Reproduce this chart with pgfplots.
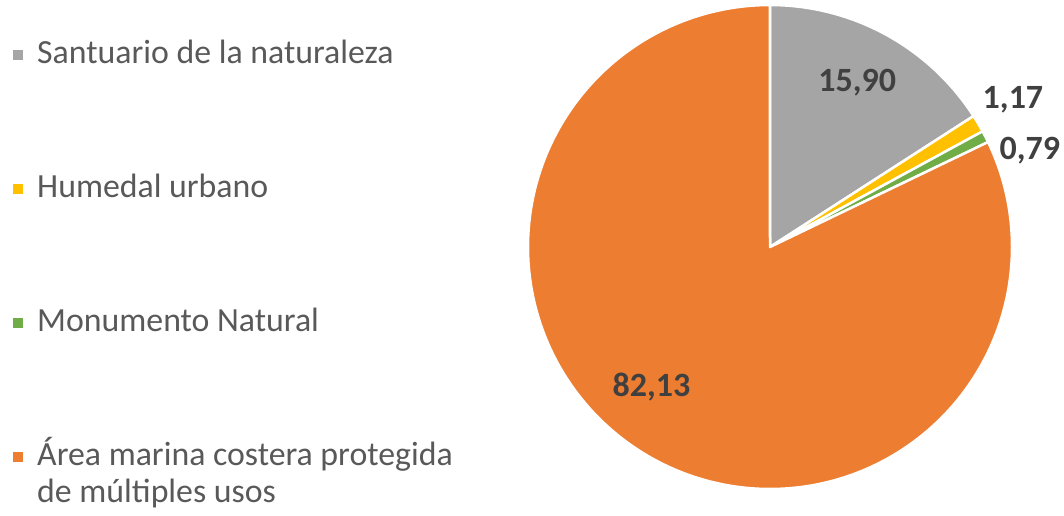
\documentclass[border=0pt]{standalone}
\usepackage{fontspec}
\setmainfont{Carlito}
\usepackage{pgfplots}
\pgfplotsset{compat=1.18}
\definecolor{cgray}{HTML}{A5A5A5}
\definecolor{cyellow}{HTML}{FFC000}
\definecolor{cgreen}{HTML}{70AD47}
\definecolor{corange}{HTML}{ED7D31}
\definecolor{ctext}{HTML}{595959}
\definecolor{clabel}{HTML}{404040}
% data (percent)
\def\va{15.90}
\def\vb{1.17}
\def\vc{0.79}
\def\vd{82.13}
\pgfmathsetmacro{\aA}{90}
\pgfmathsetmacro{\aB}{\aA-3.6*\va}
\pgfmathsetmacro{\aC}{\aB-3.6*\vb}
\pgfmathsetmacro{\aD}{\aC-3.6*\vc}
\pgfmathsetmacro{\aE}{\aD-3.6*\vd}
\begin{document}
\begin{tikzpicture}
\path[use as bounding box] (0,0) rectangle (1064pt,515pt);
\begin{axis}[
  at={(528pt,26pt)}, anchor=south west,
  scale only axis, width=484pt, height=484pt,
  xmin=-1, xmax=1, ymin=-1, ymax=1,
  hide axis, clip=false,
  every axis plot/.append style={draw=white, line width=2.5pt, line join=round},
  legend cell align=left,
  legend style={at={(rel axis cs:-1.064,0.927)}, anchor=north west, draw=none, fill=none,
    font=\fontsize{33.8}{38}\selectfont\color{ctext}, row sep=103pt, inner sep=0pt,
    nodes={inner sep=0pt, text height=23pt, text depth=8pt}},
  legend image code/.code={\fill[#1, draw=none] (0pt,-4pt) rectangle (10pt,6pt);},
]
\addplot[fill=cgray, domain=\aB:\aA, samples=80, variable=\t] ({cos(\t)},{sin(\t)}) -- (axis cs:0,0) -- cycle;
\addlegendentry{\hspace{14pt}Santuario de la naturaleza}
\addplot[fill=cyellow, domain=\aC:\aB, samples=10, variable=\t] ({cos(\t)},{sin(\t)}) -- (axis cs:0,0) -- cycle;
\addlegendentry{\hspace{14pt}Humedal urbano}
\addplot[fill=cgreen, domain=\aD:\aC, samples=10, variable=\t] ({cos(\t)},{sin(\t)}) -- (axis cs:0,0) -- cycle;
\addlegendentry{\hspace{14pt}Monumento Natural}
\addplot[fill=corange, domain=\aE:\aD, samples=300, variable=\t] ({cos(\t)},{sin(\t)}) -- (axis cs:0,0) -- cycle;
\addlegendentry{\hspace{14pt}\parbox[t]{440pt}{Área marina costera protegida\\[-1pt]de múltiples usos}}
\begin{scope}[every node/.style={font=\fontsize{34}{40}\selectfont\bfseries, text=clabel}]
\node at (axis cs:0.36,0.68) {15,90};
\node at (axis cs:1.004,0.607) {1,17};
\node at (axis cs:1.074,0.40) {0,79};
\node at (axis cs:-0.49,-0.58) {82,13};
\end{scope}
\end{axis}
\end{tikzpicture}
\end{document}
